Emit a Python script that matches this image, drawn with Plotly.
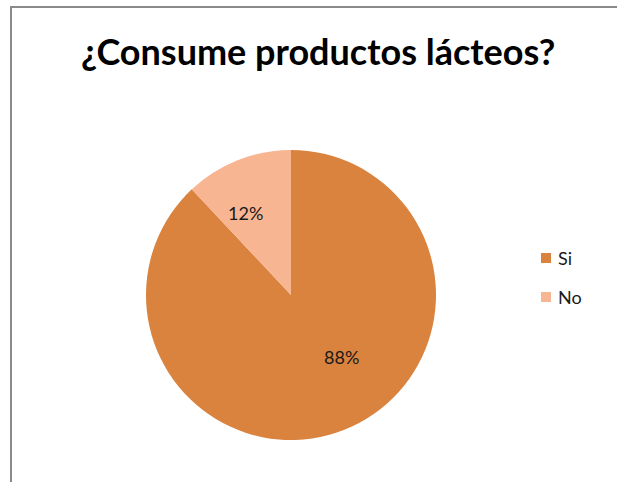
import plotly.graph_objects as go

title = "¿Consume productos lácteos?"
labels = ["Si", "No"]
values = [88, 12]
colors = ["#DA833E", "#F8B592"]
# pixel positions of the percentage labels (style, as placed in the reference)
label_pos = [(341, 357), (245, 213)]

W, H = 617, 482
cx, cy, r = 291, 295, 145

fig = go.Figure(go.Pie(
    labels=labels, values=values, sort=False, direction="clockwise", rotation=0,
    marker=dict(colors=colors, line=dict(width=0)),
    textinfo="none",
    domain=dict(x=[(cx - r) / W, (cx + r) / W], y=[1 - (cy + r) / H, 1 - (cy - r) / H]),
    showlegend=False, hoverinfo="label+percent",
))

shapes = [dict(type="rect", xref="paper", yref="paper",
               x0=11 / W, x1=1.05, y0=-0.05, y1=1 - 7 / H,
               line=dict(color="#8a8a8a", width=2), fillcolor="rgba(0,0,0,0)")]
annotations = [dict(text="<b>" + title + "</b>", x=318 / W, y=1 - 51 / H, xref="paper", yref="paper",
                    showarrow=False, xanchor="center", yanchor="middle",
                    font=dict(family="Lato", size=36, color="#000000"))]
total = sum(values)
for v, (px, py) in zip(values, label_pos):
    annotations.append(dict(text=f"{round(100 * v / total)}%", x=px / W, y=1 - py / H,
                            xref="paper", yref="paper", showarrow=False,
                            xanchor="center", yanchor="middle",
                            font=dict(family="Lato", size=18, color="#1a1a1a")))
for i, (lab, col) in enumerate(zip(labels, colors)):
    yc = 258 + 39 * i
    shapes.append(dict(type="rect", xref="paper", yref="paper",
                       x0=541 / W, x1=551 / W, y0=1 - (yc + 5) / H, y1=1 - (yc - 5) / H,
                       fillcolor=col, line=dict(width=0)))
    annotations.append(dict(text=lab, x=556 / W, y=1 - yc / H, xref="paper", yref="paper",
                            showarrow=False, xanchor="left", yanchor="middle",
                            font=dict(family="Lato", size=18, color="#1a1a1a")))

fig.update_layout(width=W, height=H, margin=dict(l=0, r=0, t=0, b=0),
                  paper_bgcolor="white", shapes=shapes, annotations=annotations)
fig.write_html("out.html")
